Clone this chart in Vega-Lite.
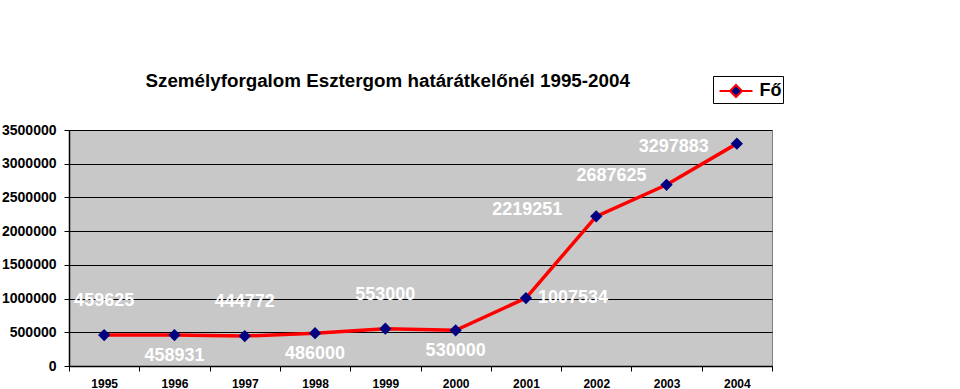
{
  "$schema": "https://vega.github.io/schema/vega-lite/v6.json",
  "width": 703,
  "height": 236,
  "autosize": {"type": "none"},
  "padding": {"left": 69, "top": 130, "right": 188, "bottom": 23},
  "background": "white",
  "config": {
    "font": "Liberation Sans",
    "view": {"fill": "#C8C8C8", "stroke": "#808080", "strokeWidth": 1}
  },
  "title": {
    "text": "Személyforgalom Esztergom határátkelőnél 1995-2004",
    "anchor": "start",
    "dx": 144,
    "offset": 0,
    "dy": 15,
    "fontSize": 18.8,
    "fontWeight": "bold",
    "color": "black",
    "font": "Liberation Sans"
  },
  "data": {
    "values": [
      {"year": "1995", "value": 459625},
      {"year": "1996", "value": 458931},
      {"year": "1997", "value": 444772},
      {"year": "1998", "value": 486000},
      {"year": "1999", "value": 553000},
      {"year": "2000", "value": 530000},
      {"year": "2001", "value": 1007534},
      {"year": "2002", "value": 2219251},
      {"year": "2003", "value": 2687625},
      {"year": "2004", "value": 3297883}
    ]
  },
  "encoding": {
    "x": {
      "field": "year",
      "type": "ordinal",
      "scale": {"type": "band", "paddingInner": 0, "paddingOuter": 0},
      "axis": {
        "title": null,
        "labelAngle": 0,
        "labelFontSize": 12,
        "labelFontWeight": "bold",
        "labelColor": "black",
        "labelPadding": 7,
        "tickBand": "extent",
        "tickColor": "black",
        "tickSize": 5,
        "domainColor": "black",
        "domainWidth": 1.5,
        "grid": false
      }
    },
    "y": {
      "field": "value",
      "type": "quantitative",
      "scale": {"domain": [0, 3500000], "nice": false},
      "axis": {
        "title": null,
        "values": [0, 500000, 1000000, 1500000, 2000000, 2500000, 3000000, 3500000],
        "format": "d",
        "labelFontSize": 14,
        "labelFontWeight": "bold",
        "labelColor": "black",
        "labelPadding": 8,
        "tickColor": "black",
        "tickSize": 5,
        "domainColor": "black",
        "domainWidth": 1.5,
        "grid": true,
        "gridColor": "black",
        "gridWidth": 1,
        "gridOpacity": 1
      }
    }
  },
  "layer": [
    {
      "mark": {"type": "line", "strokeWidth": 3.5},
      "encoding": {
        "color": {
          "datum": "Fő",
          "scale": {"range": ["#FF0000"]},
          "legend": {
            "title": null,
            "orient": "none",
            "legendX": 644,
            "legendY": -54,
            "symbolType": "M-1.32,0H-0.48M0.48,0H1.32M0,-0.48L0.48,0L0,0.48L-0.48,0Z",
            "symbolSize": 625,
            "symbolOffset": 8,
            "symbolStrokeWidth": 2,
            "symbolFillColor": "#000080",
            "labelFontSize": 18,
            "labelFontWeight": "bold",
            "labelColor": "black",
            "labelOffset": 10,
            "strokeColor": "black",
            "padding": 1.5,
            "fillColor": "white"
          }
        }
      }
    },
    {
      "mark": {"type": "point", "shape": "diamond", "filled": true, "size": 150, "color": "#000080", "opacity": 1}
    },
    {
      "transform": [{"filter": {"field": "year", "oneOf": ["1995", "1997", "1999"]}}],
      "mark": {"type": "text", "dy": -34, "align": "center", "fontSize": 18, "fontWeight": "bold", "color": "white"},
      "encoding": {"text": {"field": "value", "type": "quantitative", "format": "d"}}
    },
    {
      "transform": [{"filter": {"field": "year", "oneOf": ["1996", "1998", "2000"]}}],
      "mark": {"type": "text", "dy": 21, "align": "center", "fontSize": 18, "fontWeight": "bold", "color": "white"},
      "encoding": {"text": {"field": "value", "type": "quantitative", "format": "d"}}
    },
    {
      "transform": [{"filter": {"field": "year", "oneOf": ["2001"]}}],
      "mark": {"type": "text", "dx": 12, "align": "left", "fontSize": 18, "fontWeight": "bold", "color": "white"},
      "encoding": {"text": {"field": "value", "type": "quantitative", "format": "d"}}
    },
    {
      "transform": [{"filter": {"field": "year", "oneOf": ["2002"]}}],
      "mark": {"type": "text", "dx": -34, "dy": -6, "align": "right", "fontSize": 18, "fontWeight": "bold", "color": "white"},
      "encoding": {"text": {"field": "value", "type": "quantitative", "format": "d"}}
    },
    {
      "transform": [{"filter": {"field": "year", "oneOf": ["2003"]}}],
      "mark": {"type": "text", "dx": -20, "dy": -9, "align": "right", "fontSize": 18, "fontWeight": "bold", "color": "white"},
      "encoding": {"text": {"field": "value", "type": "quantitative", "format": "d"}}
    },
    {
      "transform": [{"filter": {"field": "year", "oneOf": ["2004"]}}],
      "mark": {"type": "text", "dx": -28, "dy": 3, "align": "right", "fontSize": 18, "fontWeight": "bold", "color": "white"},
      "encoding": {"text": {"field": "value", "type": "quantitative", "format": "d"}}
    }
  ]
}
